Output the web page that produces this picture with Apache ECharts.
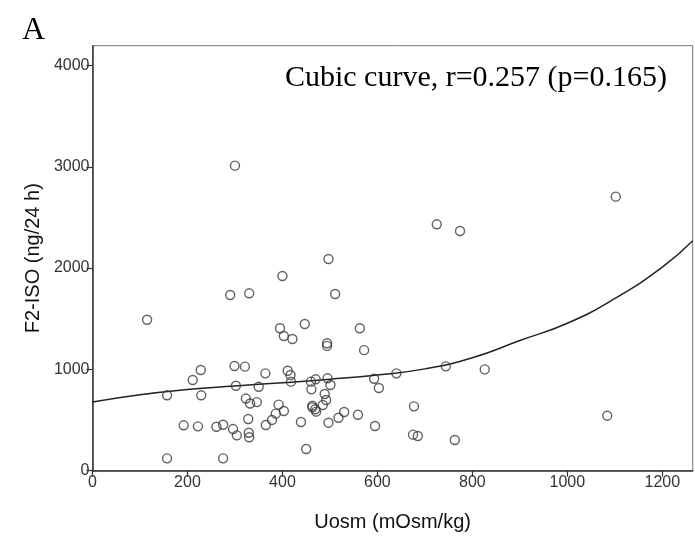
<!DOCTYPE html>
<html>
<head>
<meta charset="utf-8">
<script src="https://cdn.jsdelivr.net/npm/echarts@6/dist/echarts.min.js"></script>
<style>
html,body{margin:0;padding:0;background:#fff;}
#chart{width:695px;height:549px;}
</style>
</head>
<body>
<div id="chart"></div>
<script>
// Scatter data: Uosm (mOsm/kg) vs F2-ISO (ng/24 h)
const uosm = [115,395,403,421,447,494,494,563,299,321,228,211,157,229,302,350,364,411,417,418,
  460,470,495,501,461,489,492,485,463,463,469,471,323,332,346,392,403,386,378,365,
  328,296,304,329,330,275,261,222,192,157,275,439,450,497,518,530,559,572,593,603,
  640,744,826,677,595,675,685,763,1084,725,774,1102,300,497,400,290,330,511];
const f2iso = [1490,1406,1330,1300,1448,1258,1232,1406,1033,1027,994,895,744,744,839,829,961,987,945,879,
  879,902,912,846,803,757,698,649,642,626,606,583,712,663,677,652,589,563,501,451,
  510,411,349,375,330,454,434,438,448,122,122,481,214,474,523,579,552,1190,908,816,
  961,1030,1000,635,441,356,343,303,543,2432,2366,2705,3011,2090,1922,1734,1751,1744];

// Fitted cubic curve
const curveX = [0,100,200,300,400,500,600,700,800,900,1000,1100,1200,1264];
const curveY = [678,750,801,836,869,903,945,1005,1115,1285,1455,1700,2010,2270];

// Tick labels
const xTicks = [0,200,400,600,800,1000,1200];
const yTicks = [0,1000,2000,3000,4000];

const annotation = 'Cubic curve, r=0.257 (p=0.165)';
const panelLabel = 'A';

const chart = echarts.init(document.getElementById('chart'), null, {renderer:'canvas'});
const labelStyle = {color:'#333', fontFamily:'Liberation Sans, Arial, sans-serif', fontSize:16, formatter:(v)=>String(v)};
chart.setOption({
  animation:false,
  backgroundColor:'#fff',
  grid:{left:92.5, top:45.7, right:2.3, bottom:78.3, show:true, borderColor:'#777', borderWidth:1, backgroundColor:'transparent'},
  xAxis:{
    type:'value', min:0, max:1264, interval:200,
    name:'Uosm (mOsm/kg)', nameLocation:'middle', nameGap:42,
    nameTextStyle:{color:'#111', fontFamily:'Liberation Sans, Arial, sans-serif', fontSize:20},
    axisLine:{show:true, onZero:false, lineStyle:{color:'#333', width:1.5}},
    axisTick:{show:true, length:6, inside:false, lineStyle:{color:'#333', width:1.2}, customValues:xTicks},
    axisLabel:Object.assign({margin:4, customValues:xTicks}, labelStyle),
    splitLine:{show:false}
  },
  yAxis:{
    type:'value', min:0, max:4195, interval:1000,
    name:'F2-ISO (ng/24 h)', nameLocation:'middle', nameGap:40,
    nameTextStyle:{color:'#111', fontFamily:'Liberation Sans, Arial, sans-serif', fontSize:20},
    axisLine:{show:true, onZero:false, lineStyle:{color:'#333', width:1.5}},
    axisTick:{show:true, length:6, inside:false, lineStyle:{color:'#333', width:1.2}, customValues:yTicks},
    axisLabel:Object.assign({margin:3, customValues:yTicks}, labelStyle),
    splitLine:{show:false}
  },
  graphic:[
    {type:'text', left:22, top:15, style:{text:panelLabel, font:'32px "Liberation Serif", "Times New Roman", serif', fill:'#000'}},
    {type:'text', right:28, top:63, style:{text:annotation, font:'30px "Liberation Serif", "Times New Roman", serif', fill:'#000'}}
  ],
  series:[
    {
      type:'line', data:curveX.map((x,i)=>[x,curveY[i]]), smooth:true, showSymbol:false,
      lineStyle:{color:'#222', width:1.5}, z:3
    },
    {
      type:'scatter', data:uosm.map((x,i)=>[x,f2iso[i]]), symbol:'circle', symbolSize:9,
      itemStyle:{color:'rgba(255,255,255,0)', borderColor:'#3a3a3a', borderWidth:1.4}, z:4
    }
  ]
});
</script>
</body>
</html>
